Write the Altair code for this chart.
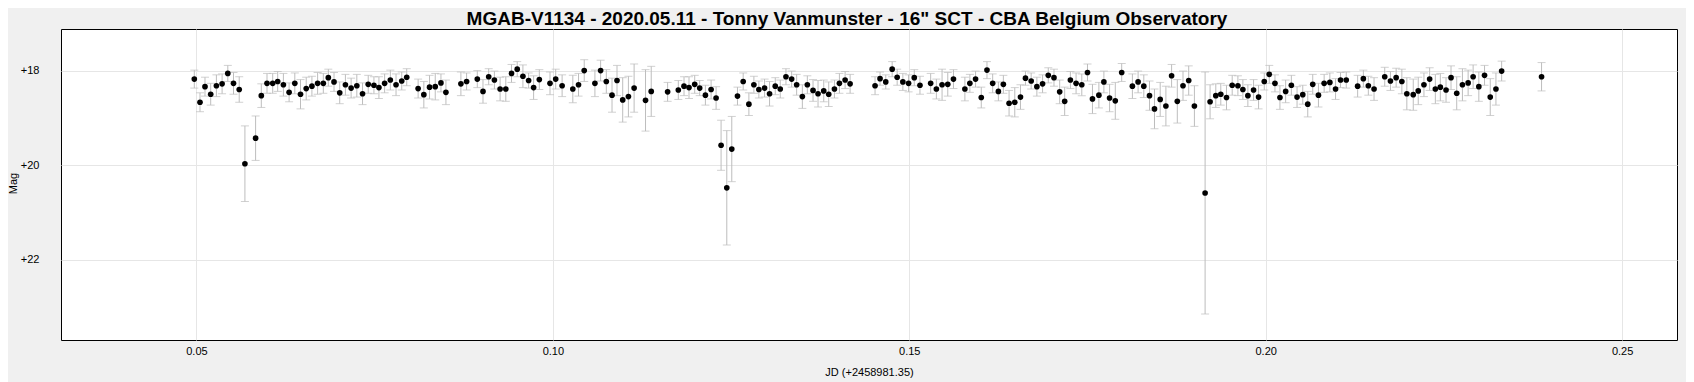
import altair as alt
import pandas as pd

# Julian date offset from 2458981.35
jd = [0.0497, 0.0505, 0.0512, 0.0520, 0.0528, 0.0536, 0.0544, 0.0552, 0.0560, 0.0568,
      0.0583, 0.0591, 0.0599, 0.0607, 0.0614, 0.0622, 0.0630, 0.0638, 0.0646, 0.0654,
      0.0662, 0.0670, 0.0678, 0.0685, 0.0693, 0.0701, 0.0709, 0.0717, 0.0725, 0.0733,
      0.0741, 0.0749, 0.0756, 0.0764, 0.0772, 0.0780, 0.0788, 0.0795, 0.0811, 0.0819,
      0.0827, 0.0835, 0.0843, 0.0850, 0.0871, 0.0879, 0.0894, 0.0902, 0.0910, 0.0918,
      0.0926, 0.0934, 0.0942, 0.0950, 0.0958, 0.0966, 0.0973, 0.0981, 0.0996, 0.1004,
      0.1013, 0.1028, 0.1036, 0.1044, 0.1059, 0.1067, 0.1075, 0.1083, 0.1090, 0.1098,
      0.1106, 0.1114, 0.1130, 0.1138, 0.1161, 0.1176, 0.1184, 0.1191, 0.1199, 0.1206,
      0.1214, 0.1222, 0.1229, 0.1236, 0.1244, 0.1251, 0.1259, 0.1267, 0.1275, 0.1282,
      0.1289, 0.1297, 0.1304, 0.1312, 0.1319, 0.1327, 0.1335, 0.1342, 0.1350, 0.1357,
      0.1365, 0.1372, 0.1380, 0.1387, 0.1395, 0.1402, 0.1410, 0.1417, 0.1452, 0.1459,
      0.1467, 0.1476, 0.1483, 0.1491, 0.1499, 0.1507, 0.1515, 0.1530, 0.1538, 0.1546,
      0.1554, 0.1562, 0.1578, 0.1585, 0.1593, 0.1601, 0.1609, 0.1617, 0.1625, 0.1632,
      0.1640, 0.1648, 0.1656, 0.1663, 0.1671, 0.1679, 0.1687, 0.1695, 0.1703, 0.1711,
      0.1718, 0.1726, 0.1734, 0.1742, 0.1750, 0.1757, 0.1766, 0.1773, 0.1781, 0.1789,
      0.1798, 0.1813, 0.1821, 0.1829, 0.1837, 0.1844, 0.1852, 0.1860, 0.1868, 0.1876,
      0.1884, 0.1892, 0.1900, 0.1915, 0.1922, 0.1930, 0.1937, 0.1945, 0.1953, 0.1961,
      0.1968, 0.1975, 0.1983, 0.1990, 0.1998, 0.2005, 0.2013, 0.2020, 0.2028, 0.2036,
      0.2044, 0.2052, 0.2059, 0.2066, 0.2074, 0.2082, 0.2090, 0.2098, 0.2105, 0.2113,
      0.2129, 0.2137, 0.2144, 0.2152, 0.2167, 0.2175, 0.2183, 0.2191, 0.2198, 0.2207,
      0.2214, 0.2222, 0.2230, 0.2238, 0.2245, 0.2253, 0.2260, 0.2268, 0.2276, 0.2284,
      0.2291, 0.2299, 0.2307, 0.2315, 0.2323, 0.2331, 0.2387]

mag = [18.18, 18.67, 18.34, 18.50, 18.32, 18.28, 18.06, 18.27, 18.40, 19.97,
       19.43, 18.53, 18.27, 18.27, 18.23, 18.30, 18.46, 18.27, 18.50, 18.38,
       18.33, 18.27, 18.27, 18.15, 18.24, 18.47, 18.30, 18.37, 18.32, 18.49,
       18.29, 18.31, 18.36, 18.27, 18.20, 18.30, 18.22, 18.14, 18.38, 18.51,
       18.35, 18.34, 18.26, 18.46, 18.28, 18.23, 18.18, 18.44, 18.13, 18.20,
       18.39, 18.39, 18.06, 17.97, 18.12, 18.21, 18.36, 18.19, 18.27, 18.18,
       18.32, 18.39, 18.30, 18.00, 18.27, 18.00, 18.23, 18.52, 18.21, 18.62,
       18.55, 18.37, 18.63, 18.44, 18.45, 18.41, 18.33, 18.36, 18.29, 18.37,
       18.52, 18.40, 18.58, 19.58, 20.48, 19.66, 18.54, 18.23, 18.71, 18.30,
       18.40, 18.37, 18.49, 18.33, 18.39, 18.13, 18.18, 18.30, 18.55, 18.30,
       18.42, 18.49, 18.43, 18.50, 18.39, 18.27, 18.20, 18.28, 18.32, 18.17,
       18.24, 17.97, 18.14, 18.24, 18.27, 18.15, 18.31, 18.27, 18.39, 18.30,
       18.29, 18.18, 18.39, 18.27, 18.18, 18.57, 17.99, 18.27, 18.44, 18.29,
       18.69, 18.67, 18.56, 18.16, 18.22, 18.34, 18.28, 18.10, 18.15, 18.45,
       18.65, 18.20, 18.27, 18.30, 18.04, 18.60, 18.52, 18.24, 18.58, 18.64,
       18.04, 18.33, 18.24, 18.33, 18.53, 18.81, 18.61, 18.75, 18.11, 18.65,
       18.32, 18.21, 18.75, 20.59, 18.66, 18.53, 18.50, 18.57, 18.31, 18.32,
       18.40, 18.53, 18.41, 18.56, 18.23, 18.08, 18.27, 18.57, 18.44, 18.31,
       18.56, 18.51, 18.71, 18.29, 18.52, 18.27, 18.25, 18.39, 18.20, 18.20,
       18.33, 18.17, 18.32, 18.39, 18.13, 18.22, 18.15, 18.23, 18.49, 18.51,
       18.43, 18.30, 18.18, 18.39, 18.35, 18.41, 18.15, 18.48, 18.30, 18.26,
       18.13, 18.34, 18.10, 18.56, 18.39, 18.01, 18.13]

err = [0.19, 0.20, 0.20, 0.23, 0.23, 0.21, 0.17, 0.23, 0.27, 0.80,
       0.47, 0.25, 0.21, 0.21, 0.21, 0.24, 0.20, 0.22, 0.31, 0.24,
       0.21, 0.23, 0.21, 0.18, 0.20, 0.23, 0.22, 0.21, 0.24, 0.23,
       0.19, 0.18, 0.23, 0.20, 0.21, 0.23, 0.19, 0.18, 0.20, 0.28,
       0.25, 0.28, 0.19, 0.26, 0.25, 0.18, 0.18, 0.25, 0.17, 0.19,
       0.25, 0.26, 0.19, 0.16, 0.24, 0.16, 0.25, 0.21, 0.24, 0.21,
       0.23, 0.29, 0.24, 0.23, 0.28, 0.22, 0.25, 0.36, 0.32, 0.47,
       0.43, 0.51, 0.65, 0.53, 0.20, 0.20, 0.20, 0.23, 0.19, 0.16,
       0.21, 0.20, 0.24, 0.53, 1.21, 0.69, 0.19, 0.18, 0.24, 0.18,
       0.18, 0.19, 0.26, 0.18, 0.19, 0.17, 0.17, 0.22, 0.25, 0.19,
       0.23, 0.28, 0.23, 0.26, 0.19, 0.21, 0.18, 0.20, 0.19, 0.14,
       0.15, 0.16, 0.17, 0.18, 0.18, 0.17, 0.19, 0.21, 0.21, 0.33,
       0.25, 0.20, 0.25, 0.19, 0.17, 0.22, 0.18, 0.20, 0.20, 0.19,
       0.27, 0.31, 0.26, 0.15, 0.17, 0.20, 0.19, 0.16, 0.18, 0.25,
       0.30, 0.18, 0.22, 0.23, 0.18, 0.31, 0.27, 0.23, 0.29, 0.39,
       0.19, 0.26, 0.23, 0.24, 0.31, 0.42, 0.36, 0.42, 0.24, 0.46,
       0.31, 0.31, 0.43, 2.56, 0.36, 0.25, 0.23, 0.26, 0.21, 0.21,
       0.21, 0.23, 0.22, 0.25, 0.18, 0.19, 0.18, 0.25, 0.24, 0.21,
       0.22, 0.20, 0.27, 0.21, 0.25, 0.19, 0.20, 0.22, 0.16, 0.17,
       0.23, 0.18, 0.20, 0.24, 0.20, 0.20, 0.20, 0.26, 0.34, 0.33,
       0.29, 0.25, 0.24, 0.31, 0.29, 0.26, 0.25, 0.35, 0.34, 0.27,
       0.25, 0.31, 0.21, 0.39, 0.34, 0.21, 0.30]

x_ticks = [0.05, 0.10, 0.15, 0.20, 0.25]
y_ticks = [18, 20, 22]

df = pd.DataFrame({"jd": jd, "mag": mag, "err": err})
df["lo"] = df["mag"] - df["err"]
df["hi"] = df["mag"] + df["err"]

FONT = "Liberation Sans"
xs = alt.Scale(domain=[0.031, 0.2577], nice=False, zero=False)
ys = alt.Scale(domain=[17.12, 23.7], nice=False, zero=False, reverse=True)

xenc = alt.X("jd:Q", scale=xs, title="JD (+2458981.35)",
             axis=alt.Axis(values=x_ticks, format=".2f", ticks=False, domain=False,
                           labelPadding=5, titlePadding=10, gridColor="#e6e6e6",
                           labelFlush=False))
yenc = alt.Y("mag:Q", scale=ys, title="Mag",
             axis=alt.Axis(values=y_ticks, labelExpr="'+' + datum.value", ticks=False,
                           domain=False, labelPadding=22, gridColor="#e6e6e6",
                           titleX=-48, titleY=154, titleAngle=270, titleAlign="center",
                           titleBaseline="middle"))

base = alt.Chart(df)
rules = base.mark_rule(color="#bdbdbd", strokeWidth=1).encode(
    x=xenc, y=alt.Y("lo:Q", scale=ys), y2="hi:Q")
cap_lo = base.mark_tick(color="#bdbdbd", orient="horizontal", size=8, thickness=1).encode(
    x="jd:Q", y=alt.Y("lo:Q", scale=ys))
cap_hi = base.mark_tick(color="#bdbdbd", orient="horizontal", size=8, thickness=1).encode(
    x="jd:Q", y=alt.Y("hi:Q", scale=ys))
pts = base.mark_circle(color="black", opacity=1, size=32).encode(x="jd:Q", y=yenc)

chart = alt.layer(rules, cap_lo, cap_hi, pts).properties(
    width=1616, height=311,
    autosize=alt.AutoSizeParams(type="none"),
    padding={"left": 53, "top": 21, "right": 9, "bottom": 42},
    background="#f0f0f0",
    title=alt.TitleParams(
        "MGAB-V1134 - 2020.05.11 - Tonny Vanmunster - 16\" SCT - CBA Belgium Observatory",
        fontSize=19, fontWeight="bold", font=FONT, color="black", anchor="middle",
        dx=-22, offset=0),
).configure_view(
    stroke="black", strokeWidth=1, fill="white"
).configure_axis(
    labelFont=FONT, titleFont=FONT, labelFontSize=11, titleFontSize=11,
    labelColor="black", titleColor="black", titleFontWeight="normal", gridWidth=1
)

chart.save("out.html", embed_options={"renderer": "svg", "actions": False})
